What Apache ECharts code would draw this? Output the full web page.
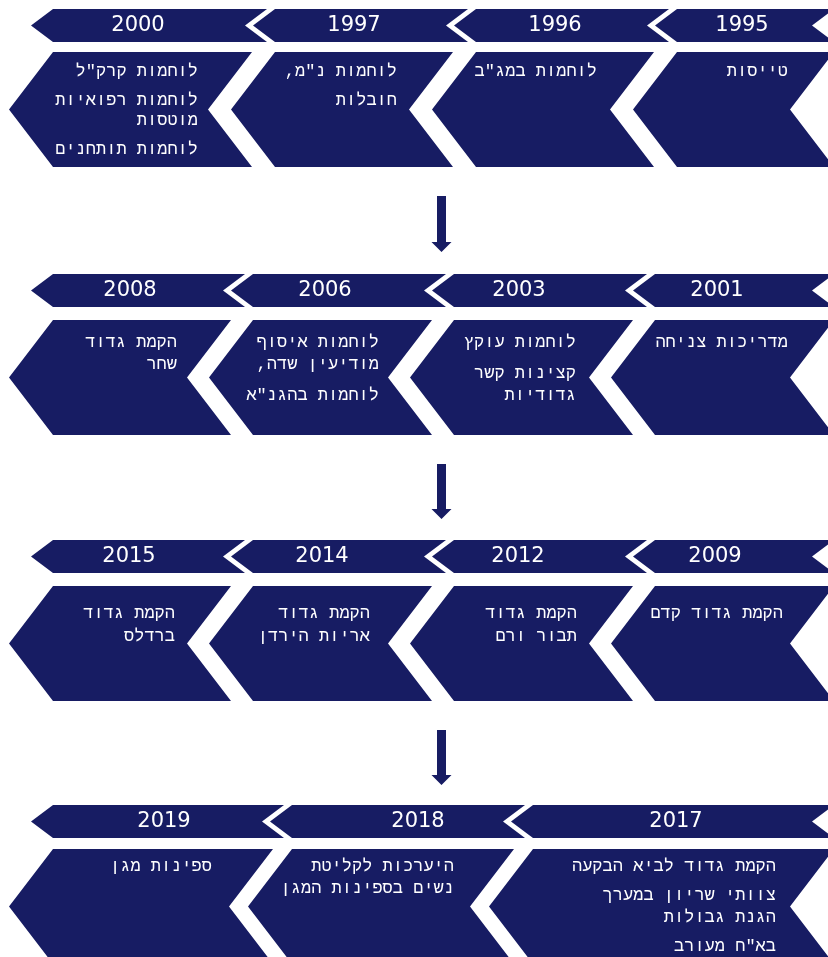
<!DOCTYPE html>
<html>
<head>
<meta charset="utf-8">
<script src="https://cdn.jsdelivr.net/npm/echarts@6/dist/echarts.min.js"></script>
<style>
  html, body { margin: 0; padding: 0; background: #ffffff; }
  #chart { width: 828px; height: 957px; direction: rtl; }
</style>
</head>
<body>
<div id="chart"></div>
<script>
// ---------- DATA (each row ordered right -> left, i.e. chronological) ----------
const years1 = ['1995', '1996', '1997', '2000'];
const events1 = [
  ['טייסות'],
  ['לוחמות במג"ב'],
  ['לוחמות נ"מ,', 'חובלות'],
  ['לוחמות קרק"ל', 'לוחמות רפואיות\nמוטסות', 'לוחמות תותחנים']
];
const years2 = ['2001', '2003', '2006', '2008'];
const events2 = [
  ['מדריכות צניחה'],
  ['לוחמות עוקץ', 'קצינות קשר\nגדודיות'],
  ['לוחמות איסוף\nמודיעין שדה,', 'לוחמות בהגנ"א'],
  ['הקמת גדוד\nשחר']
];
const years3 = ['2009', '2012', '2014', '2015'];
const events3 = [
  ['הקמת גדוד קדם'],
  ['הקמת גדוד\nתבור ורם'],
  ['הקמת גדוד\nאריות הירדן'],
  ['הקמת גדוד\nברדלס']
];
const years4 = ['2017', '2018', '2019'];
const events4 = [
  ['הקמת גדוד לביא הבקעה', 'צוותי שריון במערך\nהגנת גבולות', 'בא"ח מעורב'],
  ['היערכות לקליטת\nנשים בספינות המגן'],
  ['ספינות מגן']
];

const allYears = [years1, years2, years3, years4];
const allEvents = [events1, events2, events3, events4];

// ---------- LAYOUT (pixel positions, right -> left) ----------
const NAVY = '#171c63';
const YEAR_FONT = '"DejaVu Sans", sans-serif';
const TEXT_FONT = '"Liberation Mono", monospace';
const headerTop = [9, 274, 540, 805];
const headerH = 33;
const bodyTop = [52, 320, 586, 849];
const bodyH = 115;
const headerDepth = 22;
const bodyDepth = 44;
const headerGap = 8;
const bodyGap = [23, 22, 22, 19];
const rightEnd = 834;
const pieceLefts = [
  [677, 476, 275, 53],
  [655, 454, 253, 53],
  [655, 454, 253, 53],
  [533, 292, 53]
];
const yearX = [
  [742, 555, 354, 138],
  [717, 519, 325, 130],
  [715, 518, 322, 129],
  [676, 418, 164]
];
const textRight = [
  [788, 597, 397, 198],
  [788, 576, 379, 177],
  [783, 577, 370, 175],
  [776, 454, 212]
];
const firstLineY = [71, 342, 613, 866];
const lineStep = [20, 22, 23, 22];
const paraStep = [29, 31, 31, 29];
const arrowYs = [[196, 252], [464, 519], [730, 785]];
const arrowX = 441.5;

// ---------- build data for custom series ----------
const pieceData = [];
allYears.forEach((ys, r) => ys.forEach((y, k) => pieceData.push([r, k])));
const arrowData = arrowYs.map((a, i) => [i]);

function chevron(api, L, R, top, h, d) {
  const mid = top + h / 2;
  return [
    [L, top], [R, top], [R - d, mid], [R, top + h], [L, top + h], [L - d, mid]
  ].map(p => api.coord(p));
}

function renderPiece(params, api) {
  const r = api.value(0), k = api.value(1);
  const L = pieceLefts[r][k];
  const Rh = k === 0 ? rightEnd : pieceLefts[r][k - 1] - headerGap;
  const Rb = k === 0 ? rightEnd : pieceLefts[r][k - 1] - bodyGap[r];
  const children = [];
  children.push({
    type: 'polygon',
    shape: { points: chevron(api, L, Rh, headerTop[r], headerH, headerDepth) },
    style: { fill: NAVY }
  });
  children.push({
    type: 'polygon',
    shape: { points: chevron(api, L, Rb, bodyTop[r], bodyH, bodyDepth) },
    style: { fill: NAVY }
  });
  const yp = api.coord([yearX[r][k], headerTop[r] + headerH / 2]);
  children.push({
    type: 'text',
    x: yp[0], y: yp[1],
    style: {
      text: allYears[r][k], fill: '#ffffff',
      fontSize: 21, fontFamily: YEAR_FONT,
      align: 'center', verticalAlign: 'middle'
    }
  });
  let y = firstLineY[r];
  const paras = allEvents[r][k];
  paras.forEach((para, pi) => {
    if (pi > 0) y += paraStep[r];
    const lines = para.split('\n');
    lines.forEach((line, li) => {
      if (li > 0) y += lineStep[r];
      const tp = api.coord([textRight[r][k], y]);
      children.push({
        type: 'text',
        x: tp[0], y: tp[1],
        style: {
          text: line, fill: '#ffffff',
          fontSize: 17, fontFamily: TEXT_FONT,
          align: 'right', verticalAlign: 'middle'
        }
      });
    });
  });
  return { type: 'group', children: children };
}

function renderArrow(params, api) {
  const i = api.value(0);
  const y0 = arrowYs[i][0], y1 = arrowYs[i][1];
  const sw = 4.5, hw = 10, hh = 10;
  const pts = [
    [arrowX - sw, y0], [arrowX + sw, y0], [arrowX + sw, y1 - hh],
    [arrowX + hw, y1 - hh], [arrowX, y1], [arrowX - hw, y1 - hh], [arrowX - sw, y1 - hh]
  ].map(p => api.coord(p));
  return { type: 'polygon', shape: { points: pts }, style: { fill: NAVY } };
}

const chart = echarts.init(document.getElementById('chart'), null, { renderer: 'canvas' });
chart.setOption({
  animation: false,
  backgroundColor: '#ffffff',
  grid: { left: 0, right: 0, top: 0, bottom: 0 },
  xAxis: { type: 'value', min: 0, max: 828, show: false },
  yAxis: { type: 'value', min: 0, max: 957, inverse: true, show: false },
  series: [
    { type: 'custom', data: pieceData, renderItem: renderPiece, silent: true, clip: false },
    { type: 'custom', data: arrowData, renderItem: renderArrow, silent: true, clip: false }
  ]
});
</script>
</body>
</html>
